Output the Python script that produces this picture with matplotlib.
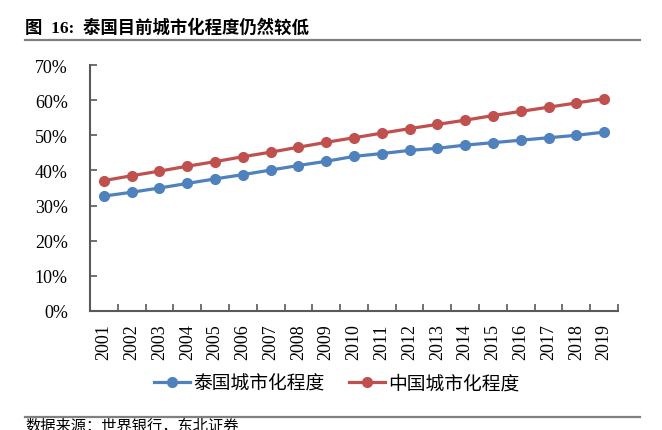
import matplotlib
matplotlib.use('Agg')
import matplotlib.pyplot as plt
from matplotlib.lines import Line2D
import numpy as np

# Données (% de population urbaine)
annees = [str(a) for a in range(2001, 2020)]
thailande = [32.7, 33.8, 35.0, 36.3, 37.6, 38.8, 40.1, 41.4, 42.6, 44.0, 44.8,
             45.7, 46.3, 47.2, 47.9, 48.6, 49.3, 50.0, 50.9]
chine = [37.1, 38.5, 39.8, 41.2, 42.5, 43.9, 45.2, 46.6, 48.0, 49.3, 50.6,
         51.9, 53.1, 54.3, 55.6, 56.8, 58.0, 59.2, 60.4]
titre = "图  16:  泰国目前城市化程度仍然较低"
source = "数据来源：世界银行，东北证券"
noms = ["泰国城市化程度", "中国城市化程度"]

serif = ['Liberation Serif', 'Noto Sans CJK SC']
cjk = ['Liberation Serif', 'Noto Sans CJK SC']

fig = plt.figure(figsize=(6.62, 4.31), dpi=100)
ax = fig.add_axes([90 / 662, 1 - 312 / 431, 528 / 662, 246 / 431])

x = np.arange(len(annees))
ax.plot(x, np.array(thailande) / 100, color='#4F81BD', lw=2.3, marker='o', ms=7, label=noms[0])
ax.plot(x, np.array(chine) / 100, color='#C0504D', lw=2.3, marker='o', ms=7, label=noms[1])

ax.set_xlim(-0.5, len(annees) - 0.5)
ax.set_ylim(0, 0.7)
ax.set_yticks(np.arange(0, 0.71, 0.1))
ax.set_yticklabels([f"{int(round(v * 100))}%" for v in np.arange(0, 0.71, 0.1)],
                   family=serif, fontsize=13)
ax.set_xticks(x)
ax.set_xticklabels(annees, rotation=90, family=serif, fontsize=13)
ax.set_xticks(np.arange(-0.5, len(annees)), minor=True)
ax.tick_params(axis='x', which='major', length=0, pad=9)
ax.tick_params(axis='x', which='minor', direction='in', length=5, width=1.2, color='#595959')
ax.tick_params(axis='y', direction='in', length=5, width=1.2, color='#595959', pad=16)

for s in ['top', 'right']:
    ax.spines[s].set_visible(False)
for s in ['left', 'bottom']:
    ax.spines[s].set_color('#595959')
    ax.spines[s].set_linewidth(1.5)

fig.legend(loc='center', bbox_to_anchor=(337 / 662, 1 - 385 / 431), ncol=2, frameon=False,
           prop={'family': cjk, 'size': 13.5}, handlelength=1.9, handletextpad=0.2,
           columnspacing=1.3)

# Titre et traits de séparation
fig.text(25 / 662, 1 - 28 / 431, titre, family=cjk, fontsize=12.5, fontweight='bold', va='center')
fig.add_artist(Line2D([25 / 662, 640 / 662], [1 - 41 / 431] * 2, color='#808080', lw=1.6,
                      transform=fig.transFigure))
fig.add_artist(Line2D([25 / 662, 640 / 662], [1 - 418 / 431] * 2, color='#808080', lw=1.6,
                      transform=fig.transFigure))
fig.text(25 / 662, -0.008, source, family=cjk, fontsize=11, va='bottom')

fig.savefig('out.png', dpi=100)
